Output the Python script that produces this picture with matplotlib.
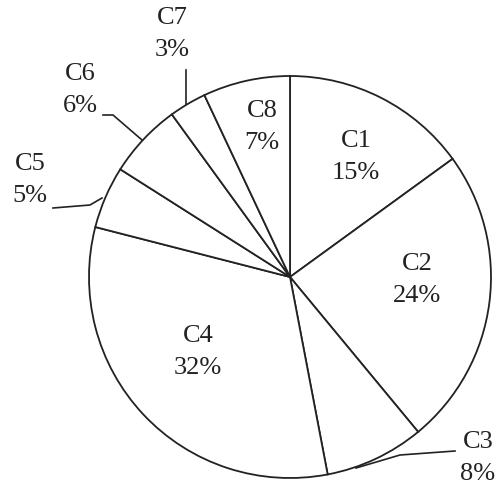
import numpy as np
import matplotlib.pyplot as plt

plt.rcParams['font.family'] = ['Liberation Serif', 'DejaVu Serif']

# data
labels = ['C1', 'C2', 'C3', 'C4', 'C5', 'C6', 'C7', 'C8']
shares = [15, 24, 8, 32, 5, 6, 3, 7]

# label positions in pixel coords (x, y from top)
label_pos = {
    'C1': (356, 157), 'C2': (417, 280), 'C3': (478, 458), 'C4': (198, 352),
    'C5': (30, 180), 'C6': (80, 90), 'C7': (172, 34), 'C8': (262, 127),
}

W, H = 502, 491
fig = plt.figure(figsize=(W / 100, H / 100), dpi=100, facecolor='white')
ax = fig.add_axes([0, 0, 1, 1])

cx, cy, r = 290, H - 277, 201
wedges, _ = ax.pie(shares, startangle=90, counterclock=False,
                   center=(cx, cy), radius=r, frame=True,
                   wedgeprops=dict(facecolor='white', edgecolor='#222222', linewidth=1.3))
ax.set_xlim(0, W)
ax.set_ylim(0, H)
ax.set_aspect('equal')
ax.axis('off')

for lab, val in zip(labels, shares):
    x, y = label_pos[lab]
    ax.text(x, H - y, f'{lab}\n{val}%', ha='center', va='center',
            fontsize=19, color='#222222', linespacing=1.6)

# leader lines for the small outer slices
lk = dict(color='#222222', linewidth=1.2)
ax.plot([186, 186], [H - 104, H - 70], **lk)                     # C7
ax.plot([142, 113, 103], [H - 140, H - 115, H - 115], **lk)      # C6
ax.plot([102, 90, 53], [H - 198, H - 205, H - 208], **lk)        # C5
ax.plot([356, 400, 455], [H - 468, H - 455, H - 451], **lk)      # C3

fig.savefig('out.png', dpi=100, facecolor='white')
